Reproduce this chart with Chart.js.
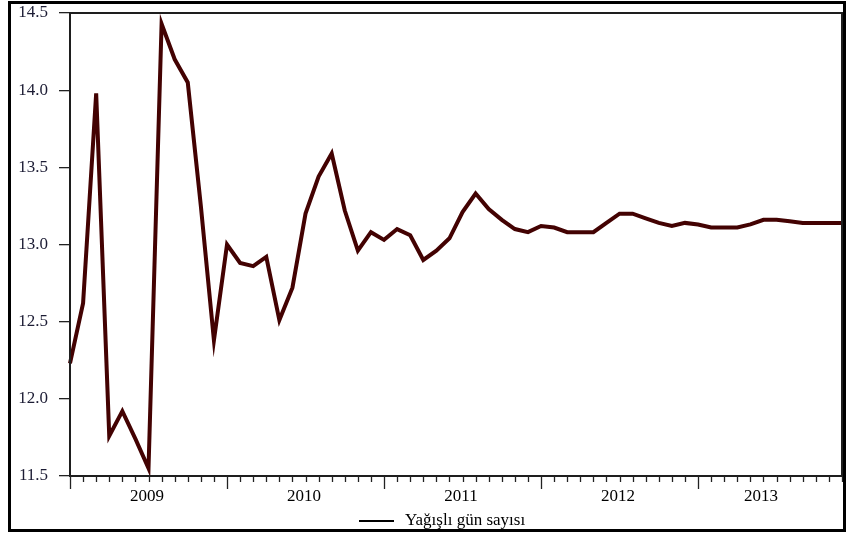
<!DOCTYPE html>
<html>
<head>
<meta charset="utf-8">
<script src="https://cdn.jsdelivr.net/npm/chart.js@4.4.1/dist/chart.umd.min.js"></script>
<style>
  html, body { margin: 0; padding: 0; background: #fff; }
  #wrap { width: 846px; height: 536px; position: relative; }
</style>
</head>
<body>
<div id="wrap"><canvas id="c" width="846" height="536"></canvas></div>
<script>
// Monthly series, January 2009 – December 2013
const years = [2009, 2010, 2011, 2012, 2013];
const monthsPerYear = 12;
const seriesLabel = 'Yağışlı gün sayısı';

const values2009 = [12.23, 12.62, 13.98, 11.76, 11.92, 11.74, 11.55, 14.43, 14.20, 14.05, 13.25, 12.38];
const values2010 = [13.00, 12.88, 12.86, 12.92, 12.51, 12.72, 13.20, 13.44, 13.59, 13.22, 12.96, 13.08];
const values2011 = [13.03, 13.10, 13.06, 12.90, 12.96, 13.04, 13.21, 13.33, 13.23, 13.16, 13.10, 13.08];
const values2012 = [13.12, 13.11, 13.08, 13.08, 13.08, 13.14, 13.20, 13.20, 13.17, 13.14, 13.12, 13.14];
const values2013 = [13.13, 13.11, 13.11, 13.11, 13.13, 13.16, 13.16, 13.15, 13.14, 13.14, 13.14, 13.14];

const yTicks = [11.5, 12.0, 12.5, 13.0, 13.5, 14.0, 14.5];

const values = [].concat(values2009, values2010, values2011, values2012, values2013);
const monthLabels = [];
years.forEach(y => { for (let m = 1; m <= monthsPerYear; m++) monthLabels.push(y + '-' + String(m).padStart(2, '0')); });

const SERIF = '"Liberation Serif", "DejaVu Serif", serif';
const LINE_COLOR = '#430202';

// Month ticks, year captions, plot box, legend and outer frame
const decorations = {
  id: 'decorations',
  afterDraw(chart) {
    const ctx = chart.ctx;
    const a = chart.chartArea;
    const xs = chart.scales.x;
    ctx.save();

    // plot box
    ctx.strokeStyle = '#1e1e1e';
    ctx.lineWidth = 2;
    ctx.strokeRect(a.left, a.top, a.right - a.left, a.bottom - a.top);

    // month ticks, longer at each January
    ctx.lineWidth = 1.3;
    ctx.strokeStyle = '#222';
    for (let i = 0; i < monthLabels.length; i++) {
      const x = Math.round(xs.getPixelForValue(i)) + 0.5;
      const len = (i % monthsPerYear === 0) ? 13 : 6;
      ctx.beginPath();
      ctx.moveTo(x, a.bottom);
      ctx.lineTo(x, a.bottom + len);
      ctx.stroke();
    }

    // year captions centred on each year's span
    ctx.fillStyle = '#000';
    ctx.font = '17px ' + SERIF;
    ctx.textAlign = 'center';
    ctx.textBaseline = 'middle';
    years.forEach((y, k) => {
      const start = xs.getPixelForValue(k * monthsPerYear);
      const end = xs.getPixelForValue(Math.min((k + 1) * monthsPerYear, monthLabels.length - 1));
      const x = k === years.length - 1 ? (start + end) / 2 - 9 : start + (end - start) * 0.49;
      ctx.fillText(String(y), x, 497);
    });

    // legend
    const ds = chart.data.datasets[0];
    ctx.strokeStyle = '#000';
    ctx.lineWidth = 2;
    ctx.beginPath();
    ctx.moveTo(359, 521);
    ctx.lineTo(394, 521);
    ctx.stroke();
    ctx.textAlign = 'left';
    ctx.font = '17px ' + SERIF;
    ctx.fillText(ds.label, 405, 521);

    // outer frame
    ctx.strokeStyle = '#000';
    ctx.lineWidth = 3;
    ctx.strokeRect(9.5, 2.5, 835, 528);
    ctx.restore();
  }
};

new Chart(document.getElementById('c'), {
  type: 'line',
  data: {
    labels: monthLabels,
    datasets: [{
      label: seriesLabel,
      data: values,
      borderColor: LINE_COLOR,
      backgroundColor: LINE_COLOR,
      borderWidth: 4,
      borderJoinStyle: 'miter',
      borderCapStyle: 'butt',
      pointRadius: 0,
      tension: 0,
      fill: false
    }]
  },
  options: {
    responsive: false,
    animation: false,
    devicePixelRatio: 1,
    layout: { padding: { top: 13, right: 4, left: 0, bottom: 0 } },
    plugins: { legend: { display: false }, tooltip: { enabled: false } },
    scales: {
      x: {
        type: 'category',
        offset: false,
        grid: { display: false },
        border: { display: false },
        ticks: { display: false },
        afterFit(scale) { scale.height = 60; scale.paddingLeft = 0; scale.paddingRight = 0; }
      },
      y: {
        min: 11.5,
        max: 14.5,
        afterBuildTicks(scale) { scale.ticks = yTicks.map(v => ({ value: v })); },
        ticks: {
          font: { family: SERIF, size: 17 },
          color: '#1c1c34',
          padding: 11,
          callback: v => Number(v).toFixed(1)
        },
        grid: { drawOnChartArea: false, drawTicks: true, tickLength: 11, color: '#222', lineWidth: 1.3 },
        border: { display: false },
        afterFit(scale) { scale.width = 70; scale.paddingTop = 0; scale.paddingBottom = 0; }
      }
    }
  },
  plugins: [decorations]
});
</script>
</body>
</html>
